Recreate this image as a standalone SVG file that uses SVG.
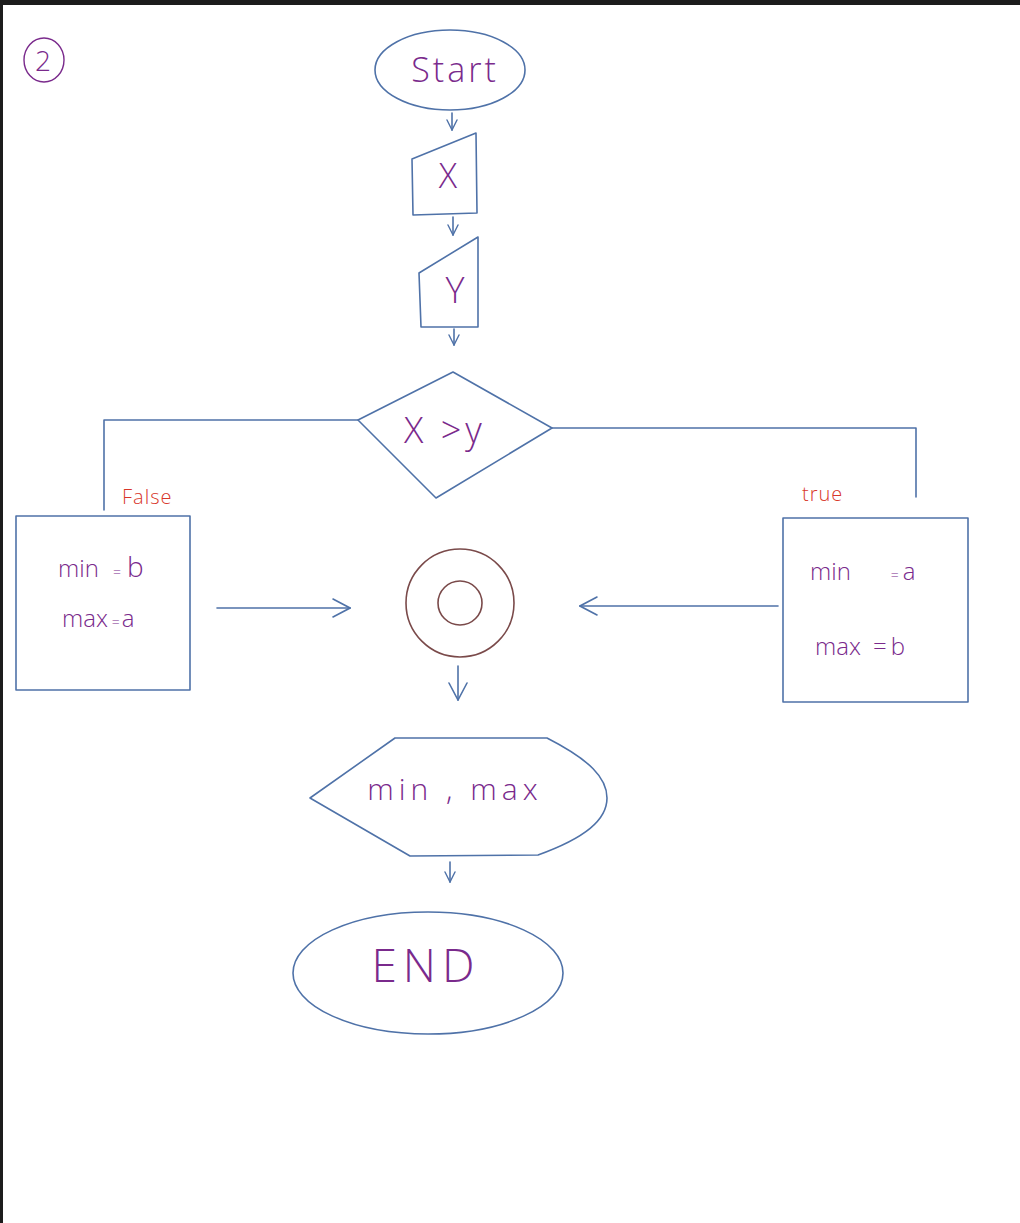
<svg xmlns="http://www.w3.org/2000/svg" width="1020" height="1223" viewBox="0 0 1020 1223">
  <style>
    .shape { fill: none; stroke: #4f72a8; stroke-width: 1.6; stroke-linejoin: round; }
    .link { fill: none; stroke: #4f72a8; stroke-width: 1.6; stroke-linecap: round; stroke-linejoin: round; }
    .txt { font-family: "Open Sans", "Liberation Sans", sans-serif; font-weight: 300; fill: #7a2a8c; }
    .lbl { font-family: "Open Sans", "Liberation Sans", sans-serif; font-weight: 300; fill: #d8362a; font-size: 20px; }
    .ring { fill: none; stroke: #7a4a4a; stroke-width: 1.6; }
  </style>
  <defs>
    <marker id="head" viewBox="0 0 12 12" refX="11" refY="6" markerWidth="12" markerHeight="12" markerUnits="userSpaceOnUse" orient="auto">
      <path d="M1,1 L11,6 L1,11" fill="none" stroke="#4f72a8" stroke-width="1.4" stroke-linecap="round"/>
    </marker>
    <marker id="headBig" viewBox="0 0 20 20" refX="19" refY="10" markerWidth="20" markerHeight="20" markerUnits="userSpaceOnUse" orient="auto">
      <path d="M2,1 L19,10 L2,19" fill="none" stroke="#4f72a8" stroke-width="1.6" stroke-linecap="round"/>
    </marker>
  </defs>

  <!-- page background and dark frame -->
  <rect x="0" y="0" width="1020" height="1223" fill="#ffffff"/>
  <rect x="0" y="0" width="1020" height="5" fill="#1c1c1c"/>
  <rect x="0" y="0" width="3" height="1223" fill="#1c1c1c"/>

  <!-- exercise number -->
  <g id="number">
    <ellipse cx="44" cy="60" rx="20" ry="22" fill="none" stroke="#7a2a8c" stroke-width="1.4"/>
    <text class="txt" x="43" y="71" font-size="28" text-anchor="middle">2</text>
  </g>

  <g id="start">
    <ellipse class="shape" cx="450" cy="70" rx="75" ry="40"/>
    <text class="txt" x="455" y="82" font-size="34" text-anchor="middle" letter-spacing="3">Start</text>
  </g>

  <g id="input-x">
    <polygon class="shape" points="412,159 476,133 477,213 413,215"/>
    <text class="txt" x="448" y="188" font-size="34" text-anchor="middle">X</text>
  </g>

  <g id="input-y">
    <polygon class="shape" points="419,273 478,237 478,327 421,327"/>
    <text class="txt" x="455" y="303" font-size="36" text-anchor="middle">Y</text>
  </g>

  <g id="decision">
    <polygon class="shape" points="358,420 453,372 552,428 436,498"/>
    <text class="txt" x="445" y="443" font-size="36" text-anchor="middle" letter-spacing="4">X &gt;y</text>
  </g>

  <g id="false-branch">
    <rect class="shape" x="16" y="516" width="174" height="174"/>
    <text class="txt" x="58" y="577" font-size="24">min <tspan font-size="14" dx="8">=</tspan><tspan dx="6" font-size="28">b</tspan></text>
    <text class="txt" x="62" y="627" font-size="24">max<tspan font-size="14" dx="4">=</tspan><tspan dx="2">a</tspan></text>
  </g>

  <g id="true-branch">
    <rect class="shape" x="783" y="518" width="185" height="184"/>
    <text class="txt" x="810" y="580" font-size="24">min<tspan font-size="14" dx="40">=</tspan><tspan dx="4">a</tspan></text>
    <text class="txt" x="815" y="655" font-size="24">max <tspan dx="6">=</tspan><tspan dx="4">b</tspan></text>
  </g>

  <g id="join">
    <circle class="ring" cx="460" cy="603" r="54"/>
    <circle class="ring" cx="460" cy="603" r="22"/>
  </g>

  <g id="output">
    <path class="shape" d="M310,798 L395,738 L547,738 C590,760 607,778 607,798 C607,820 585,838 538,855 L410,856 Z"/>
    <text class="txt" x="455" y="800" font-size="30" text-anchor="middle" letter-spacing="5">min , max</text>
  </g>

  <g id="end">
    <ellipse class="shape" cx="428" cy="973" rx="135" ry="61"/>
    <text class="txt" x="426" y="982" font-size="46" text-anchor="middle" letter-spacing="6">END</text>
  </g>

  <!-- branch labels -->
  <text class="lbl" x="122" y="504" letter-spacing="1">False</text>
  <text class="lbl" x="802" y="501" letter-spacing="1">true</text>

  <g id="connectors">
    <line class="link" x1="452" y1="113" x2="452" y2="130" marker-end="url(#head)"/>
    <line class="link" x1="453" y1="217" x2="453" y2="235" marker-end="url(#head)"/>
    <line class="link" x1="454" y1="329" x2="454" y2="345" marker-end="url(#head)"/>
    <polyline class="link" points="358,420 104,420 104,510"/>
    <polyline class="link" points="552,428 916,428 916,497"/>
    <line class="link" x1="217" y1="608" x2="350" y2="608" marker-end="url(#headBig)"/>
    <line class="link" x1="778" y1="606" x2="580" y2="606" marker-end="url(#headBig)"/>
    <line class="link" x1="458" y1="666" x2="458" y2="700" marker-end="url(#headBig)"/>
    <line class="link" x1="450" y1="862" x2="450" y2="882" marker-end="url(#head)"/>
  </g>
</svg>
